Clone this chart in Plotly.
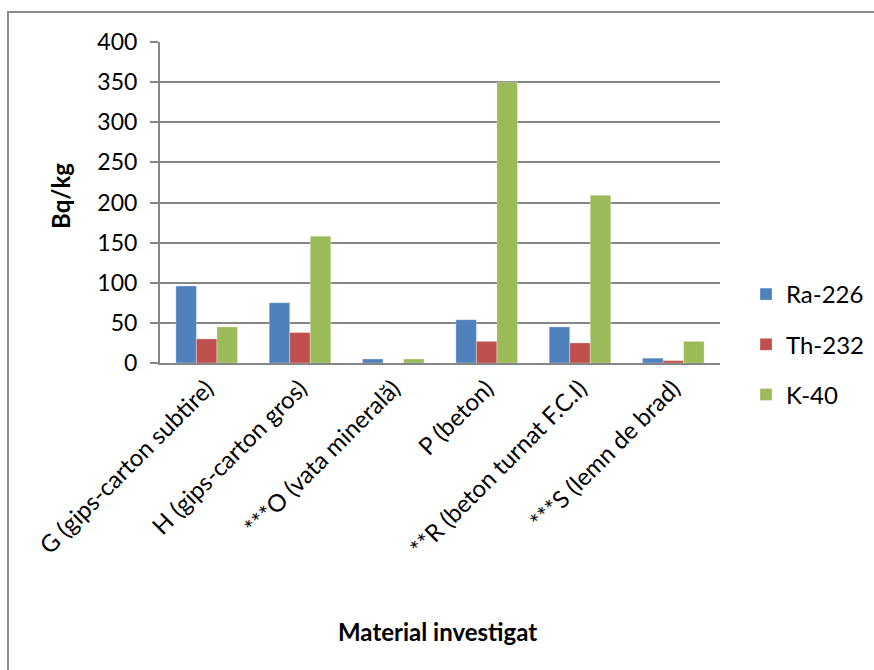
import plotly.graph_objects as go

categories = [
    "G (gips-carton subtire)",
    "H (gips-carton gros)",
    "***O (vata mineral\u0103)",
    "P (beton)",
    "**R (beton turnat F.C.I)",
    "***S (lemn de brad)",
]
ra226 = [96, 75, 5, 54, 45, 6]
th232 = [30, 38, 0, 27, 25, 3]
k40 = [45, 158, 5, 350, 209, 27]
series_names = ["Ra-226", "Th-232", "K-40"]
colors = ["#4F81BD", "#C0504D", "#9BBB59"]

FONT = "Lato"
FS = 24
fig = go.Figure()
for i, (name, vals) in enumerate(zip(series_names, [ra226, th232, k40])):
    fig.add_trace(go.Bar(
        x=categories, y=vals, name=name, legendgroup=name,
        marker=dict(color=colors[i], line=dict(color="rgba(255,255,255,0.6)", width=0.5)),
    ))

L, R, T, B = 160, 154, 42, 307
W, H = 874, 670
pw, ph = W - L - R, H - T - B

fig.update_layout(
    width=W, height=H,
    margin=dict(l=L, r=R, t=T, b=B, autoexpand=False),
    paper_bgcolor="white", plot_bgcolor="white",
    barmode="group", bargap=0.34, bargroupgap=0,
    font=dict(family=FONT, size=FS, color="black"),
    legend=dict(x=(746 - L) / pw, xanchor="left", y=(H - B - 272) / ph, yanchor="top",
                font=dict(size=FS), tracegroupgap=16, bgcolor="rgba(0,0,0,0)"),
    xaxis=dict(
        tickangle=-45, showline=True, linecolor="#868686", linewidth=2,
        ticks="", showgrid=False, tickfont=dict(size=FS), automargin=False,
    ),
    yaxis=dict(
        range=[0, 400], dtick=50, showgrid=True, gridcolor="#868686", gridwidth=1.5,
        showline=True, linecolor="#868686", linewidth=2,
        ticks="outside", ticklen=8, tickcolor="#868686", tickwidth=1.5,
        zeroline=False, ticklabelstandoff=8, tickfont=dict(size=FS - 1), automargin=False,
    ),
    annotations=[
        dict(text="<b>Material investigat</b>", xref="paper", yref="paper",
             x=(437 - L) / pw, y=(H - B - 631) / ph, xanchor="center", yanchor="middle",
             showarrow=False, font=dict(size=FS)),
        dict(text="<b>Bq/kg</b>", xref="paper", yref="paper", textangle=-90,
             x=(60 - L) / pw, y=(H - B - 196) / ph, xanchor="center", yanchor="middle",
             showarrow=False, font=dict(size=FS)),
    ],
    shapes=[dict(type="rect", xref="paper", yref="paper",
                 x0=(8 - L) / pw, x1=2, y0=-2, y1=(H - B - 12) / ph,
                 line=dict(color="#8c8c8c", width=2), layer="below")],
)
fig.write_html("out.html")
